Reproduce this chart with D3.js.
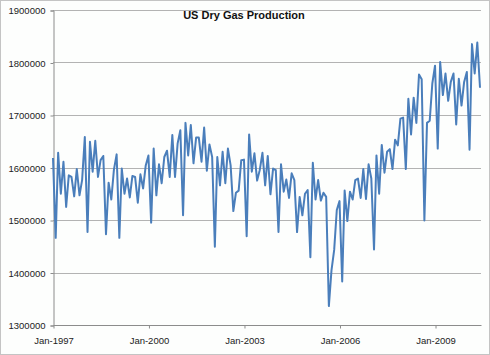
<!DOCTYPE html>
<html>
<head>
<meta charset="utf-8">
<script src="https://cdn.jsdelivr.net/npm/d3@7"></script>
<style>
  html, body { margin: 0; padding: 0; background: #fff; }
  svg { display: block; }
</style>
</head>
<body>
<svg id="chart" width="490" height="355"></svg>
<script>
const title = "US Dry Gas Production";
const startMonth = "1997-01";
// Monthly US dry gas production (Jan-1997 .. Jun-2010)
const production = [
  1618000,1466000,1628000,1550000,1611000,1525000,1585000,1582000,1545000,1597000,1547000,1576000,
  1658000,1477000,1649000,1592000,1651000,1582000,1614000,1622000,1473000,1571000,1539000,1596000,
  1625000,1466000,1598000,1550000,1579000,1543000,1584000,1582000,1533000,1587000,1560000,1604000,
  1623000,1495000,1636000,1547000,1606000,1570000,1620000,1632000,1582000,1662000,1582000,1646000,
  1671000,1509000,1685000,1623000,1681000,1608000,1657000,1657000,1611000,1676000,1594000,1644000,
  1620000,1449000,1620000,1566000,1630000,1570000,1636000,1604000,1517000,1552000,1556000,1614000,
  1615000,1469000,1663000,1592000,1627000,1575000,1595000,1628000,1566000,1622000,1549000,1598000,
  1595000,1477000,1606000,1554000,1577000,1542000,1589000,1576000,1477000,1544000,1509000,1550000,
  1557000,1429000,1609000,1539000,1576000,1537000,1552000,1544000,1336000,1404000,1443000,1519000,
  1536000,1383000,1556000,1498000,1554000,1539000,1576000,1579000,1542000,1597000,1540000,1606000,
  1579000,1444000,1623000,1550000,1643000,1590000,1630000,1635000,1597000,1653000,1642000,1693000,
  1695000,1597000,1731000,1663000,1733000,1685000,1777000,1768000,1499000,1685000,1689000,1760000,
  1794000,1636000,1801000,1738000,1779000,1727000,1763000,1779000,1682000,1769000,1718000,1763000,
  1782000,1634000,1835000,1779000,1838000,1752000
];
const yTicks = [1300000,1400000,1500000,1600000,1700000,1800000,1900000];
const xTickLabels = ["Jan-1997","Jan-2000","Jan-2003","Jan-2006","Jan-2009"];

(function () {
const parseMonth = d3.timeParse("%Y-%m");
const start = parseMonth(startMonth);
const data = production.map((v, i) => ({ date: d3.timeMonth.offset(start, i), value: v }));
const xTickDates = xTickLabels.map(d3.timeParse("%b-%Y"));

const svg = d3.select("#chart");
const W = 490, H = 355;
const mLeft = 53, mRight = 480, mTop = 10, mBottom = 325;

svg.append("rect").attr("x", 0.5).attr("y", 0.5).attr("width", W - 1).attr("height", H - 1)
  .attr("fill", "#fdfefd").attr("stroke", "#c4c4c4");

const x = d3.scaleTime().domain([start, data[data.length - 1].date]).range([mLeft, mRight]);
const y = d3.scaleLinear().domain([1300000, 1900000]).range([mBottom, mTop]);

// gridlines
svg.append("g").selectAll("line").data(yTicks.slice(1)).join("line")
  .attr("x1", mLeft).attr("x2", mRight + 1)
  .attr("y1", d => Math.round(y(d)) + 0.5).attr("y2", d => Math.round(y(d)) + 0.5)
  .attr("stroke", "#b3b3b3").attr("stroke-width", 1);

const font = "'Liberation Sans', Arial, sans-serif";

// y axis
const yAxis = d3.axisLeft(y).tickValues(yTicks).tickFormat(d3.format("d")).tickSize(3).tickPadding(5);
const gy = svg.append("g").attr("transform", `translate(${mLeft + 0.5},0.5)`).call(yAxis);
gy.select(".domain").attr("stroke", "#8c8c8c");
gy.selectAll(".tick line").attr("stroke", "#8c8c8c");
gy.selectAll("text").attr("font-family", font).attr("font-size", 9.5).attr("fill", "#222");

// x axis
const xAxis = d3.axisBottom(x).tickValues(xTickDates).tickFormat(d3.timeFormat("%b-%Y")).tickSize(3).tickPadding(9);
const gx = svg.append("g").attr("transform", `translate(0.5,${mBottom + 0.5})`).call(xAxis);
gx.select(".domain").attr("stroke", "#8c8c8c").attr("d", `M${mLeft},0H${mRight + 1}`);
gx.selectAll(".tick line").attr("stroke", "#8c8c8c");
gx.selectAll("text").attr("font-family", font).attr("font-size", 9.5).attr("fill", "#222");

// line
const line = d3.line().x(d => x(d.date)).y(d => y(d.value));
svg.append("path").datum(data).attr("d", line)
  .attr("fill", "none").attr("stroke", "#4a7ebb").attr("stroke-width", 2)
  .attr("stroke-linejoin", "round");

// title
svg.append("text").attr("x", 244).attr("y", 19).attr("text-anchor", "middle")
  .attr("font-family", font).attr("font-weight", "bold").attr("font-size", 11)
  .attr("fill", "#111").text(title);
})();
</script>
</body>
</html>
